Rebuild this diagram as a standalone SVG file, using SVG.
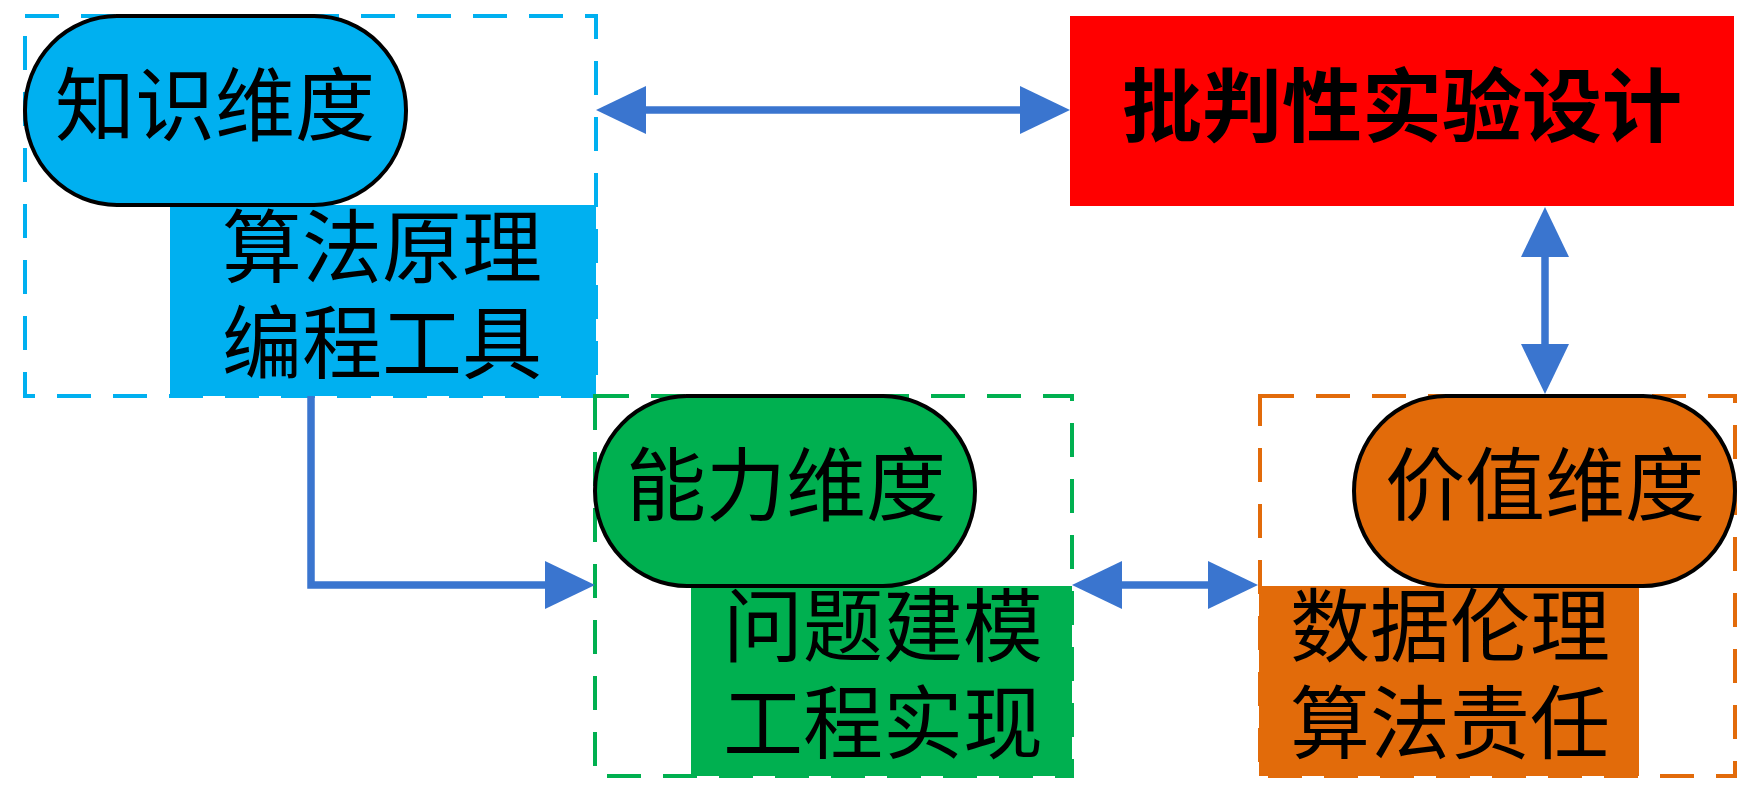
<svg xmlns="http://www.w3.org/2000/svg" width="1757" height="793" viewBox="0 0 1757 793">
<style>
.frame{fill:none;stroke-width:4;stroke-dasharray:34 22}
.pill{stroke:#000;stroke-width:4}
.t{font-family:"Liberation Serif","Noto Sans CJK SC",serif;font-size:80px;fill:#000;text-anchor:middle;dominant-baseline:central}
.title{font-weight:bold}
.conn{fill:none;stroke:#3A75CF;stroke-width:7.5}
</style>
<defs>
<marker id="ah" markerUnits="userSpaceOnUse" markerWidth="50" markerHeight="48" viewBox="0 0 50 48" refX="30" refY="24" orient="auto-start-reverse">
<path d="M0,0 L50,24 L0,48 Z" fill="#3A75CF"/>
</marker>
</defs>
<rect width="1757" height="793" fill="#fff"/>

<g id="knowledge">
<rect x="170" y="205" width="426" height="191" fill="#00B0F0"/>
<rect class="frame" x="25" y="16" width="571" height="380" stroke="#00B0F0"/>
<rect class="pill" x="25" y="16" width="381" height="189" rx="92" ry="94" fill="#00B0F0"/>
<text class="t" x="215" y="107">知识维度</text>
<text class="t" x="382" y="249">算法原理</text>
<text class="t" x="382" y="345">编程工具</text>
</g>

<g id="critical">
<rect x="1070" y="16" width="664" height="190" fill="#FF0000"/>
<text class="t title" x="1402" y="108">批判性实验设计</text>
</g>

<g id="ability">
<rect x="691" y="586" width="381" height="190" fill="#00B050"/>
<rect class="frame" x="595" y="396" width="477" height="380" stroke="#00B050"/>
<rect class="pill" x="595" y="396" width="380" height="190" rx="92" ry="95" fill="#00B050"/>
<text class="t" x="786" y="487">能力维度</text>
<text class="t" x="883" y="628">问题建模</text>
<text class="t" x="883" y="725">工程实现</text>
</g>

<g id="value">
<rect x="1259" y="586" width="380" height="190" fill="#E26B0A"/>
<rect class="frame" x="1260" y="396" width="475" height="380" stroke="#E26B0A"/>
<rect class="pill" x="1354" y="396" width="381" height="190" rx="92" ry="95" fill="#E26B0A"/>
<text class="t" x="1545" y="487">价值维度</text>
<text class="t" x="1450" y="628">数据伦理</text>
<text class="t" x="1450" y="725">算法责任</text>
</g>

<g id="connectors">
<line class="conn" x1="616" y1="110" x2="1050" y2="110" marker-start="url(#ah)" marker-end="url(#ah)"/>
<line class="conn" x1="1545" y1="227" x2="1545" y2="374" marker-start="url(#ah)" marker-end="url(#ah)"/>
<path class="conn" d="M311,396 V585 H575" marker-end="url(#ah)"/>
<line class="conn" x1="1092" y1="585" x2="1238" y2="585" marker-start="url(#ah)" marker-end="url(#ah)"/>
</g>
</svg>
